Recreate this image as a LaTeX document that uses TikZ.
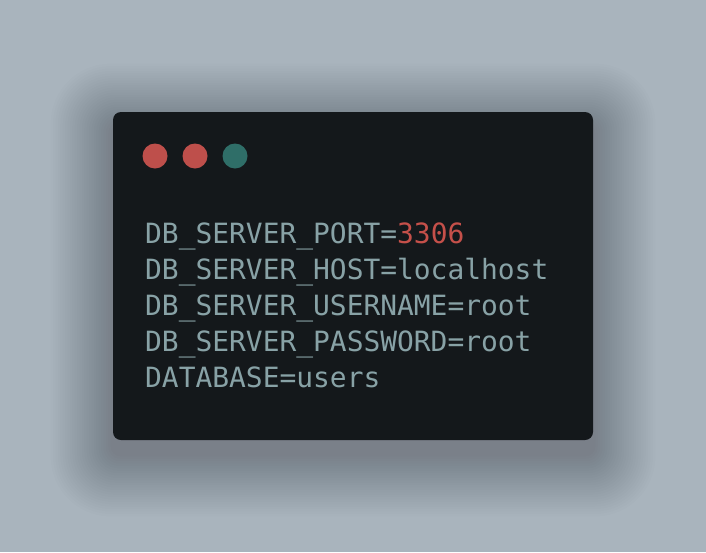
\documentclass[tikz,border=0pt]{standalone}
\usepackage{fontspec}
\setmonofont{DejaVu Sans Mono}
\usetikzlibrary{calc}
\definecolor{bgcol}{HTML}{A9B4BD}
\definecolor{cardcol}{HTML}{14181B}
\definecolor{dotred}{HTML}{BE4F4B}
\definecolor{dotteal}{HTML}{2F6E68}
\definecolor{codecol}{HTML}{88A2A6}
\definecolor{numcol}{HTML}{C5504A}
\begin{document}
\begin{tikzpicture}[x=1pt,y=-1pt,
    codeline/.style={anchor=base west,inner sep=0pt,text=codecol,
      font=\fontsize{27.9}{33}\selectfont\ttfamily}]
      \def\cx{113}\def\cy{112}
      \def\cw{480}\def\ch{328}
      \def\background{
        \fill [bgcol] (0,0) rectangle (706,552);
        % soft shadow round the card
        \foreach \i in {1,...,26} {
          \fill [black,opacity=0.009,rounded corners=8+2*\i]
            (\cx-2.4*\i,\cy-2.4*\i+14) rectangle (\cx+\cw+2.4*\i,\cy+\ch+2.4*\i+14);
        }
      }
      \def\card{
        \fill [cardcol,rounded corners=8] (\cx,\cy) rectangle (\cx+\cw,\cy+\ch);
        \coordinate (c0) at (\cx,\cy);
      }
      \def\showDots{
        \foreach \i/\col in {1/dotred,2/dotred,3/dotteal}
          \fill [\col] ($ (c0)+(2+40*\i,44) $) circle (12.5);
      }
      \def\showCode{
        \node [codeline] (l1) at (145,243) {DB\_SERVER\_PORT=\textcolor{numcol}{3306}};
        \node [codeline] (l2) at (145,279) {DB\_SERVER\_HOST=localhost};
        \node [codeline] (l3) at (145,315) {DB\_SERVER\_USERNAME=root};
        \node [codeline] (l4) at (145,351) {DB\_SERVER\_PASSWORD=root};
        \node [codeline] (l5) at (145,387) {DATABASE=users};
      }
      \background
      \card
      \showDots
      \showCode
    \end{tikzpicture}
\end{document}
